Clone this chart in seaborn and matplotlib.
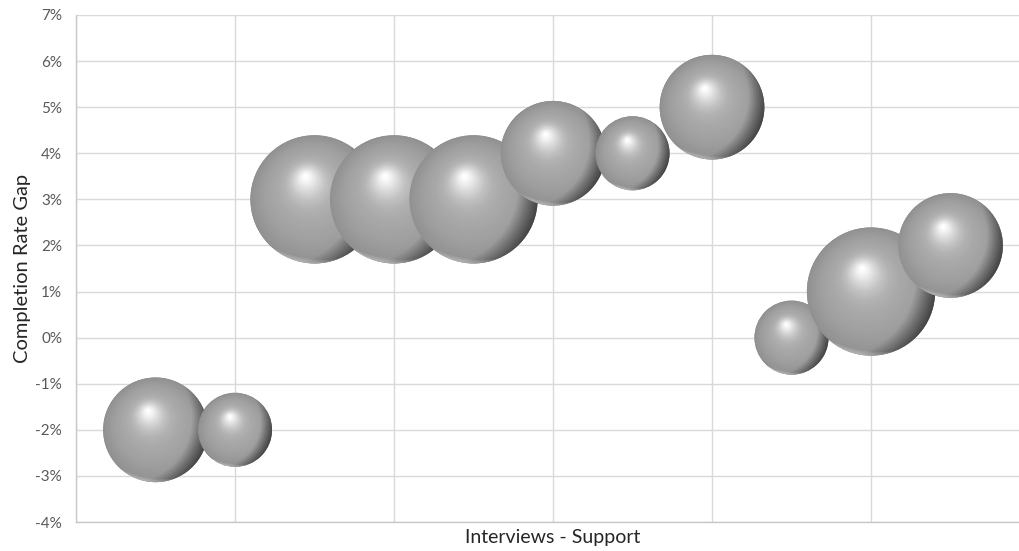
import numpy as np
import pandas as pd
import matplotlib
matplotlib.use("Agg")
import matplotlib.pyplot as plt
import matplotlib.transforms as mtransforms
from matplotlib.path import Path
from matplotlib.ticker import PercentFormatter, MultipleLocator
import seaborn as sns

# ---- data ----
x_pos = [1, 2, 3, 4, 5, 6, 7, 8, 9, 10, 11]
completion_gap = [-0.02, -0.02, 0.03, 0.03, 0.03, 0.04, 0.04, 0.05, 0.00, 0.01, 0.02]
bubble_size = [2, 1, 3, 3, 3, 2, 1, 2, 1, 3, 2]
y_tick_values = [-0.04, -0.03, -0.02, -0.01, 0.00, 0.01, 0.02, 0.03, 0.04, 0.05, 0.06, 0.07]
x_title = "Interviews - Support"
y_title = "Completion Rate Gap"

# ---- style ----
sns.set_theme(style="white")
plt.rcParams['font.family'] = ['Lato', 'DejaVu Sans']
plt.rcParams['axes.unicode_minus'] = False

W, H = 1020, 551
fig = plt.figure(figsize=(W / 100, H / 100), dpi=100)
ax = fig.add_axes([76 / W, (H - 522) / H, (1030 - 76) / W, (522 - 15) / H])

df = pd.DataFrame({"x": x_pos, "gap": completion_gap, "size": bubble_size})
sns.scatterplot(data=df, x="x", y="gap", size="size", sizes=(2840, 8520),
                size_norm=(1, 3), color="#8c8c8c", edgecolor="none",
                legend=False, ax=ax, zorder=2)
sizes = ax.collections[0].get_sizes()


# ---- sphere shading helpers ----
def lune_marker(angle_deg, delta, w, n=48):
    """Part of the unit disc outside an offset circle: a crescent facing angle."""
    a = np.deg2rad(angle_deg)
    rho = 1 + delta - w
    phi = np.arccos(np.clip((rho ** 2 - 1 - delta ** 2) / (2 * delta), -1, 1))
    beta = np.arctan2(np.sin(phi), np.cos(phi) + delta)
    ang_o = np.linspace(a - phi, a + phi, n)
    outer = np.column_stack([np.cos(ang_o), np.sin(ang_o)])
    c = -delta * np.array([np.cos(a), np.sin(a)])
    ang_i = np.linspace(a + beta, a - beta, n)
    inner = c + rho * np.column_stack([np.cos(ang_i), np.sin(ang_i)])
    verts = np.vstack([outer, inner, outer[:1]])
    codes = [Path.MOVETO] + [Path.LINETO] * (len(verts) - 2) + [Path.CLOSEPOLY]
    return Path(verts, codes), np.max(np.abs(verts))


h_off = np.array([-0.14, 0.36])          # highlight position (fraction of radius)
n_body = 50
t_body = np.linspace(0, 1, n_body)
body_t = [0.0, 0.25, 0.50, 0.63, 0.74, 0.84, 0.93, 1.0]
body_g = [0.57, 0.625, 0.665, 0.70, 0.765, 0.855, 0.945, 1.0]

dark_w = np.linspace(0.03, 0.34, 12)      # dark crescents, lower-right side
dark_alpha = np.linspace(0.075, 0.035, 12)
dark_dir = -22
light_w = [0.03, 0.05, 0.07]              # faint reflection at the bottom rim
light_dir = -100
dark_lunes = [lune_marker(dark_dir, 0.6, w) for w in dark_w]
light_lunes = [lune_marker(light_dir, 0.9, w) for w in light_w]

for i, (xi, yi, si) in enumerate(zip(df["x"], df["gap"], sizes)):
    r = np.sqrt(si) / 2.0
    z0 = 3 + i
    nt = n_body + len(dark_lunes) + len(light_lunes) + 1
    k = 0
    for t in t_body:
        off = t * h_off * r
        tr = mtransforms.offset_copy(ax.transData, fig=fig, x=off[0], y=off[1], units='points')
        g = float(np.interp(t, body_t, body_g))
        dia = 2 * r * (1 - 0.97 * t)
        ax.scatter([xi], [yi], s=dia ** 2, color=(g, g, g), edgecolors='none',
                   linewidths=0, transform=tr, zorder=z0 + k / nt)
        k += 1
    for (p, m), al in zip(dark_lunes, dark_alpha):
        ax.scatter([xi], [yi], s=(2 * r * m) ** 2, marker=p, color="black", alpha=al,
                   edgecolors='none', linewidths=0, zorder=z0 + k / nt)
        k += 1
    for (p, m) in light_lunes:
        ax.scatter([xi], [yi], s=(2 * r * m) ** 2, marker=p, color="white", alpha=0.10,
                   edgecolors='none', linewidths=0, zorder=z0 + k / nt)
        k += 1

ax.set_xlim(0, 12)
ax.set_ylim(-0.04, 0.07)
ax.xaxis.set_major_locator(MultipleLocator(2))
ax.set_yticks(y_tick_values)
ax.yaxis.set_major_formatter(PercentFormatter(1.0, decimals=0))
ax.set_xticklabels([])
ax.grid(True, color="#d9d9d9", linewidth=1.0, zorder=0)
ax.set_axisbelow(True)
for s in ["top", "right"]:
    ax.spines[s].set_visible(False)
for s in ["left", "bottom"]:
    ax.spines[s].set_color("#c8c8c8")
    ax.spines[s].set_linewidth(1.0)
ax.tick_params(axis="both", length=0, pad=10, labelsize=11, labelcolor="#595959")
ax.set_xlabel(x_title, fontsize=14, color="#262626")
ax.xaxis.set_label_coords(0.5, -0.013)
ax.xaxis.label.set_verticalalignment("top")
ax.set_ylabel(y_title, fontsize=14.5, color="#262626", labelpad=3)

fig.savefig("out.png", dpi=100)
